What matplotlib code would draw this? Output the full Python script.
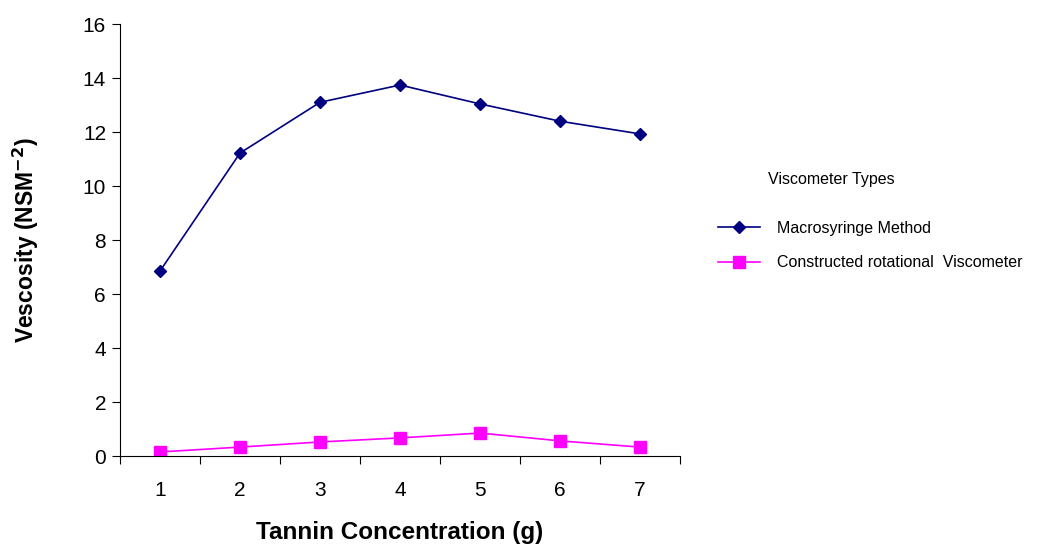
import matplotlib.pyplot as plt

plt.rcParams['font.family'] = ['Liberation Sans', 'DejaVu Sans']

conc = [1, 2, 3, 4, 5, 6, 7]
macro = [6.85, 11.22, 13.1, 13.74, 13.04, 12.4, 11.93]
rotational = [0.15, 0.33, 0.52, 0.67, 0.85, 0.56, 0.33]

fig = plt.figure(figsize=(10.42, 5.51), dpi=100)
ax = fig.add_axes([120/1042, (551-456)/551, 560/1042, 432/551])

ax.plot(conc, macro, color='#000080', marker='D', markersize=6, lw=1.2,
        label='Macrosyringe Method')
ax.plot(conc, rotational, color='#FF00FF', marker='s', markersize=8, lw=1.2,
        label='Constructed rotational  Viscometer')

ax.set_xlim(0.5, 7.5)
ax.set_ylim(0, 16)
ax.set_yticks(range(0, 17, 2))
ax.set_xticks([x + 0.5 for x in range(0, 8)])
ax.set_xticklabels([])
ax.set_xticks(conc, minor=True)
ax.set_xticklabels([str(c) for c in conc], minor=True)
ax.tick_params(axis='x', which='minor', length=0, pad=18, labelsize=15)
ax.tick_params(axis='x', which='major', length=6, direction='out')
ax.tick_params(axis='y', length=6, direction='out', labelsize=15, pad=4)

for s in ['top', 'right']:
    ax.spines[s].set_visible(False)

ax.set_xlabel('Tannin Concentration (g)', fontsize=17.5, fontweight='bold')
ax.xaxis.set_label_coords(0.5, -(521-456)/432)
ax.set_ylabel('Vescosity (NSM$^{\\mathbf{-2}}$)', fontsize=16.5, fontweight='bold')
ax.yaxis.set_label_coords(-(120-41)/560, 0.5)

fig.text(768/1042, 1 - 180/551, 'Viscometer Types', fontsize=11.5,
         ha='left', va='center')
leg = fig.legend(loc='center left', bbox_to_anchor=(704/1042, 1 - 245.5/551),
                 frameon=False, fontsize=11.5, handlelength=2.6,
                 handletextpad=1.1, labelspacing=1.25)

fig.savefig('out.png', dpi=100)
